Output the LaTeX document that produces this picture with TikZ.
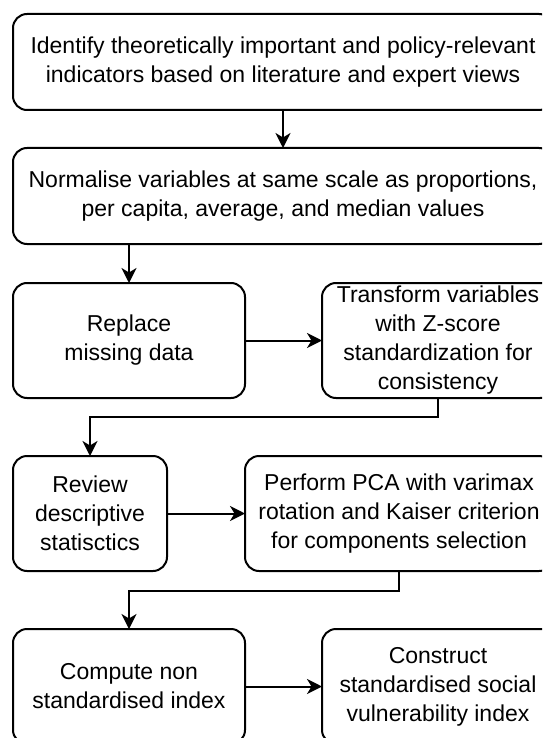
\documentclass[tikz,border=0pt]{standalone}
\usepackage{fontspec}
\setmainfont{Liberation Sans}
\usetikzlibrary{arrows.meta}
\begin{document}
\begin{tikzpicture}[x=1pt,y=-1pt,
  stepbox/.style={draw=black, line width=2pt, rounded corners=14pt, align=center,
    font=\fontsize{23}{29}\selectfont, inner sep=0pt, outer sep=0pt},
  arr/.style={line width=2pt, -{Stealth[length=15pt,width=15pt,inset=4.5pt]}}]
\useasboundingbox (0,0) rectangle (542,738);
\clip (0,0) rectangle (542,738);
\node[stepbox, minimum width=540pt, minimum height=96pt] (b1) at (283,62)
  {Identify theoretically important and policy-relevant\\indicators based on literature and expert views};
\node[stepbox, minimum width=540pt, minimum height=96pt] (b2) at (283,196)
  {Normalise variables at same scale as proportions,\\per capita, average, and median values};
\node[stepbox, minimum width=232pt, minimum height=115pt] (b3) at (129,340.5)
  {Replace\\missing data};
\node[stepbox, minimum width=232pt, minimum height=115pt] (b4) at (438,340.5)
  {Transform variables\\with Z-score\\standardization for\\consistency};
\node[stepbox, minimum width=154pt, minimum height=115pt] (b5) at (90,513.5)
  {Review\\descriptive\\statisctics};
\node[stepbox, minimum width=308pt, minimum height=115pt] (b6) at (399,513.5)
  {Perform PCA with varimax\\rotation and Kaiser criterion\\for components selection};
\node[stepbox, minimum width=232pt, minimum height=115pt] (b7) at (129,686.5)
  {Compute non\\standardised index};
\node[stepbox, minimum width=232pt, minimum height=115pt] (b8) at (438,686.5)
  {Construct\\standardised social\\vulnerability index};
\coordinate (k1) at (438,417);
\coordinate (k2) at (399,591);
\draw[arr] (b1.south) -- (b2.north);
\draw[arr] (b2.south -| b3.north) -- (b3.north);
\draw[arr] (b3.east) -- (b4.west);
\draw[arr] (b4.south) -- (k1) -| (b5.north);
\draw[arr] (b5.east) -- (b6.west);
\draw[arr] (b6.south) -- (k2) -| (b7.north);
\draw[arr] (b7.east) -- (b8.west);
\end{tikzpicture}
\end{document}
